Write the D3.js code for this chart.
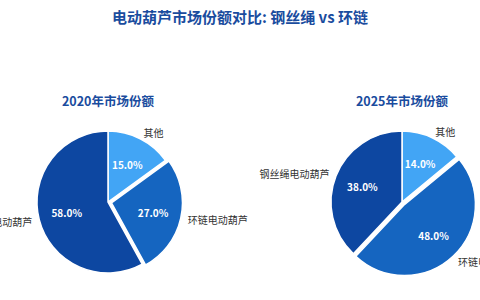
<!DOCTYPE html>
<html>
<head>
<meta charset="utf-8">
<script src="https://cdn.jsdelivr.net/npm/d3@7"></script>
<style>
    body { margin: 0; background: #fff; }
    svg { display: block; font-family: "Noto Sans CJK SC", "Noto Sans", sans-serif; }
</style>
</head>
<body>
<svg id="chart" width="480" height="300"></svg>
<script>
/*globals d3*/

var categories = ["其他", "环链电动葫芦", "钢丝绳电动葫芦"];
var share2020 = [15.0, 27.0, 58.0];
var share2025 = [14.0, 48.0, 38.0];
var years = ["2020年市场份额", "2025年市场份额"];
var title = "电动葫芦市场份额对比: 钢丝绳 vs 环链";

(function () {
    "use strict";

    var svg = d3.select("#chart"),
        width = 480,
        radius = 71,
        colors = d3.scaleOrdinal()
            .domain(categories)
            .range(["#42a5f5", "#1565c0", "#0d47a1"]),
        exploded = "环链电动葫芦",
        pie = d3.pie().sort(null).value(function (d) { return d.value; }),
        arc = d3.arc().innerRadius(0).outerRadius(radius),
        pctArc = d3.arc().innerRadius(radius * 0.6).outerRadius(radius * 0.6),
        labelArc = d3.arc().innerRadius(radius * 1.1).outerRadius(radius * 1.1),
        centers = [[108, 202], [402, 202]];

    svg.append("text")
        .attr("x", width / 2)
        .attr("y", 16)
        .attr("text-anchor", "middle")
        .attr("dominant-baseline", "central")
        .style("font-size", "15px")
        .style("font-weight", "bold")
        .style("fill", "#1a4c9e")
        .text(title);

    function drawPie(values, i) {
        var data = categories.map(function (c, k) { return {name: c, value: values[k]}; }),
            g = svg.append("g")
                .attr("transform", "translate(" + centers[i][0] + "," + centers[i][1] + ")"),
            slices;

        svg.append("text")
            .attr("x", centers[i][0])
            .attr("y", 100)
            .attr("text-anchor", "middle")
            .attr("dominant-baseline", "central")
            .style("font-size", "12.5px")
            .style("font-weight", "bold")
            .style("fill", "#1a4c9e")
            .text(years[i]);

        slices = g.selectAll("g.slice").data(pie(data))
            .enter().append("g")
            .attr("class", "slice")
            .attr("transform", function (d) {
                var off = d.data.name === exploded ? radius * 0.05 : 0,
                    a = (d.startAngle + d.endAngle) / 2;
                return "translate(" + off * Math.sin(a) + "," + (-off * Math.cos(a)) + ")";
            });

        slices.append("path")
            .attr("d", arc)
            .attr("fill", function (d) { return colors(d.data.name); })
            .attr("stroke", "#fff")
            .attr("stroke-width", 1.5);

        slices.append("text")
            .attr("transform", function (d) { return "translate(" + pctArc.centroid(d) + ")"; })
            .attr("text-anchor", "middle")
            .attr("dominant-baseline", "central")
            .style("font-size", "10px")
            .style("font-weight", "bold")
            .style("fill", "#fff")
            .text(function (d) { return d.data.value.toFixed(1) + "%"; });

        slices.append("text")
            .attr("transform", function (d) { return "translate(" + labelArc.centroid(d) + ")"; })
            .attr("text-anchor", function (d) {
                return labelArc.centroid(d)[0] > 0 ? "start" : "end";
            })
            .attr("dominant-baseline", "central")
            .style("font-size", "10px")
            .style("fill", "#333")
            .text(function (d) { return d.data.name; });
    }

    drawPie(share2020, 0);
    drawPie(share2025, 1);
}());
</script>
</body>
</html>
